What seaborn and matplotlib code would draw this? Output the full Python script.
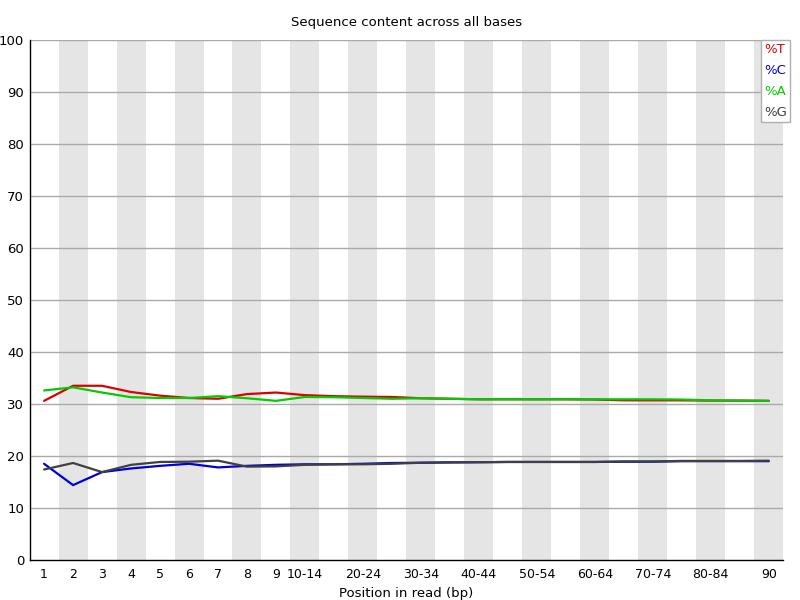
import pandas as pd
import seaborn as sns
import matplotlib.pyplot as plt

# Position groups along the read (x categories)
POSITIONS = ["1", "2", "3", "4", "5", "6", "7", "8", "9",
             "10-14", "15-19", "20-24", "25-29", "30-34", "35-39",
             "40-44", "45-49", "50-54", "55-59", "60-64", "65-69",
             "70-74", "75-79", "80-84", "85-89", "90"]
TICK_LABELS = ["1", "2", "3", "4", "5", "6", "7", "8", "9",
               "10-14", "", "20-24", "", "30-34", "", "40-44", "",
               "50-54", "", "60-64", "", "70-74", "", "80-84", "", "90"]

# Percent of each base per position
PCT_T = [30.6, 33.5, 33.5, 32.3, 31.6, 31.15, 31.0, 31.9, 32.2, 31.7, 31.5,
         31.4, 31.35, 31.1, 31.0, 30.9, 30.9, 30.9, 30.9, 30.85, 30.7, 30.7,
         30.7, 30.65, 30.65, 30.6]
PCT_C = [18.5, 14.4, 16.9, 17.6, 18.1, 18.5, 17.8, 18.1, 18.3, 18.4, 18.4,
         18.5, 18.65, 18.7, 18.75, 18.8, 18.85, 18.85, 18.85, 18.85, 18.9,
         18.9, 19.0, 19.0, 19.0, 19.0]
PCT_A = [32.6, 33.2, 32.2, 31.3, 31.15, 31.15, 31.5, 31.1, 30.6, 31.35, 31.3,
         31.15, 31.0, 31.1, 31.0, 30.9, 30.9, 30.9, 30.9, 30.9, 30.9, 30.9,
         30.85, 30.7, 30.65, 30.6]
PCT_G = [17.4, 18.65, 16.9, 18.3, 18.85, 18.9, 19.1, 17.95, 18.0, 18.3, 18.4,
         18.4, 18.5, 18.7, 18.8, 18.8, 18.85, 18.85, 18.85, 18.85, 18.95,
         18.95, 19.05, 19.05, 19.05, 19.1]

BASES = ["%T", "%C", "%A", "%G"]
COLORS = {"%T": "#dc0000", "%C": "#0000dc", "%A": "#00cc00", "%G": "#404040"}


def main():
    rows = []
    for base, vals in zip(BASES, [PCT_T, PCT_C, PCT_A, PCT_G]):
        for i, v in enumerate(vals):
            rows.append({"pos": i, "Base": base, "pct": v})
    df = pd.DataFrame(rows)

    sns.set_theme(style="white")
    plt.rcParams["font.family"] = ["DejaVu Sans"]
    plt.rcParams["text.color"] = "black"
    plt.rcParams["xtick.color"] = "black"
    plt.rcParams["ytick.color"] = "black"
    plt.rcParams["axes.labelcolor"] = "black"

    fig = plt.figure(figsize=(8, 6), dpi=100)
    ax = fig.add_axes([0.037, 0.0667, 0.942, 0.8667])

    # alternating grey stripes behind the data
    for i in range(len(POSITIONS)):
        if i % 2 == 1:
            ax.axvspan(i - 0.5, i + 0.5, color="#e5e5e5", lw=0, zorder=0)
    for yv in range(10, 101, 10):
        ax.axhline(yv, color="#aaaaaa", lw=1, zorder=1)

    sns.lineplot(data=df, x="pos", y="pct", hue="Base", hue_order=BASES,
                 palette=COLORS, ax=ax, linewidth=1.6, legend=False,
                 zorder=3)

    ax.set_xlim(-0.5, len(POSITIONS) - 0.5)
    ax.set_ylim(0, 100)
    ax.set_xticks(range(len(POSITIONS)))
    ax.set_xticklabels(TICK_LABELS, fontsize=9)
    ax.set_yticks(range(0, 101, 10))
    ax.tick_params(axis="y", labelsize=9.5, length=0, pad=4)
    ax.tick_params(axis="x", length=0, pad=6)
    ax.set_xlabel("Position in read (bp)", fontsize=9.5, labelpad=4)
    ax.set_ylabel("")
    ax.set_title("Sequence content across all bases", fontsize=9.5, pad=10)

    for side in ["top", "right"]:
        ax.spines[side].set_visible(False)
    for side in ["left", "bottom"]:
        ax.spines[side].set_color("black")
        ax.spines[side].set_linewidth(1)

    # text-only legend with coloured labels
    handles = [plt.Line2D([], [], color="none", label=b) for b in BASES]
    leg = ax.legend(handles=handles, loc="upper right",
                    bbox_to_anchor=(790 / 800, 1 - 40 / 600),
                    bbox_transform=fig.transFigure, borderaxespad=0,
                    handlelength=0, handletextpad=0, fontsize=9.5,
                    frameon=True, fancybox=False, edgecolor="#b0b0b0",
                    framealpha=1, borderpad=0.25, labelspacing=0.6)
    leg.get_frame().set_linewidth(1)
    for txt, b in zip(leg.get_texts(), BASES):
        txt.set_color(COLORS[b])

    fig.savefig("out.png", dpi=100)
    plt.close(fig)


if __name__ == "__main__":
    main()
